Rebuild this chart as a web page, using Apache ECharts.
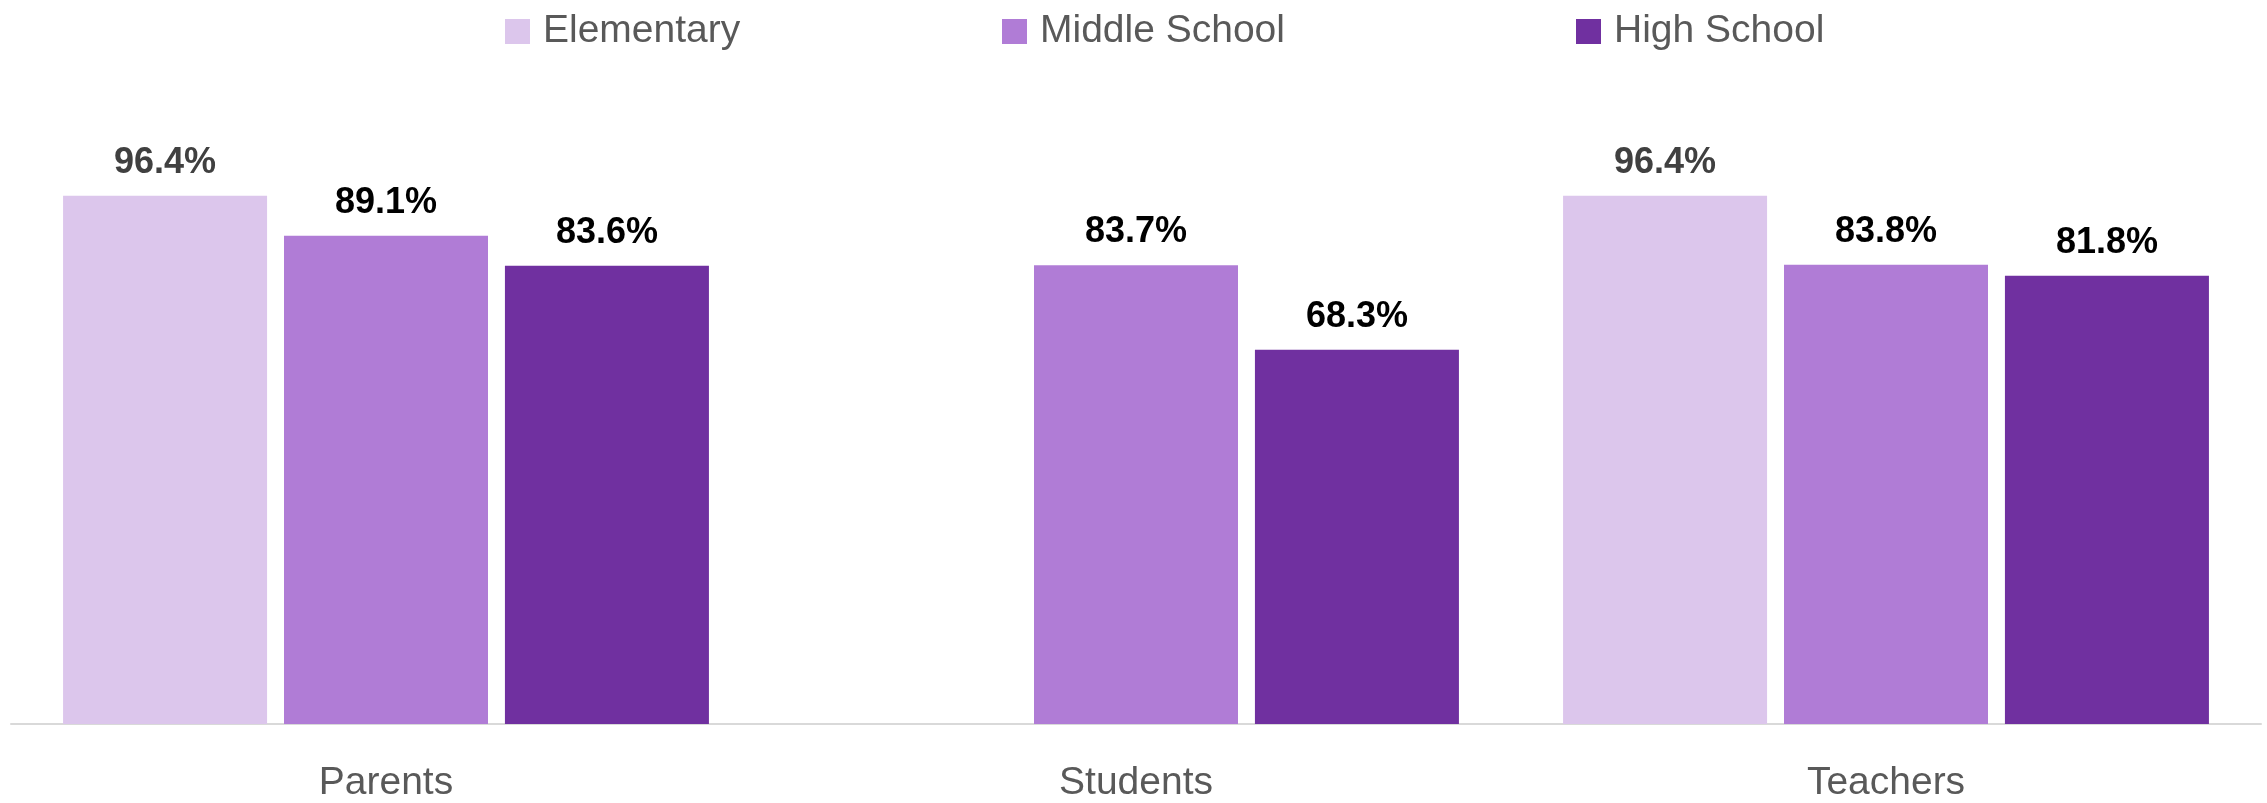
<!DOCTYPE html>
<html>
<head>
<meta charset="utf-8">
<script src="https://cdn.jsdelivr.net/npm/echarts@6/dist/echarts.min.js"></script>
<style>html,body{margin:0;padding:0;background:#fff}#c{width:2267px;height:803px}</style>
</head>
<body>
<div id="c"></div>
<script>
var categories = ['Parents', 'Students', 'Teachers'];
var seriesNames = ['Elementary', 'Middle School', 'High School'];
var elementary = [96.4, null, 96.4];
var middleSchool = [89.1, 83.7, 83.8];
var highSchool = [83.6, 68.3, 81.8];
var colors = ['#DCC6EC', '#B07CD6', '#7030A0'];
var labelColors = ['#404040', '#000000', '#000000'];
var legendLeft = [505, 1002, 1576];

var chart = echarts.init(document.getElementById('c'));
var values = [elementary, middleSchool, highSchool];
var font = '"Liberation Sans", sans-serif';

var legends = seriesNames.map(function (n, i) {
  return {
    data: [n], left: legendLeft[i], top: 12, padding: 0,
    itemWidth: 25, itemHeight: 25, itemGap: 0, icon: 'rect',
    textStyle: { fontFamily: font, fontSize: 39, color: '#595959', padding: [0, 0, 0, 8] }
  };
});

chart.setOption({
  animation: false,
  color: colors,
  legend: legends,
  grid: { left: 11, right: 6, top: 176, bottom: 76, containLabel: false },
  xAxis: {
    type: 'category', data: categories,
    axisLine: { lineStyle: { color: '#D9D9D9', width: 2 } },
    axisTick: { show: false },
    axisLabel: { fontFamily: font, fontSize: 39, color: '#595959', margin: 40 }
  },
  yAxis: { type: 'value', min: 0, max: 100, show: false, splitLine: { show: false } },
  series: values.map(function (v, i) {
    return {
      name: seriesNames[i], type: 'bar', data: v,
      barWidth: 204, barGap: '8.3%',
      itemStyle: { color: colors[i] },
      label: {
        show: true, position: 'top', distance: 15,
        fontFamily: font, fontWeight: 'bold', fontSize: 36, color: labelColors[i],
        formatter: function (p) { return p.value.toFixed(1) + '%'; }
      }
    };
  })
});
</script>
</body>
</html>
